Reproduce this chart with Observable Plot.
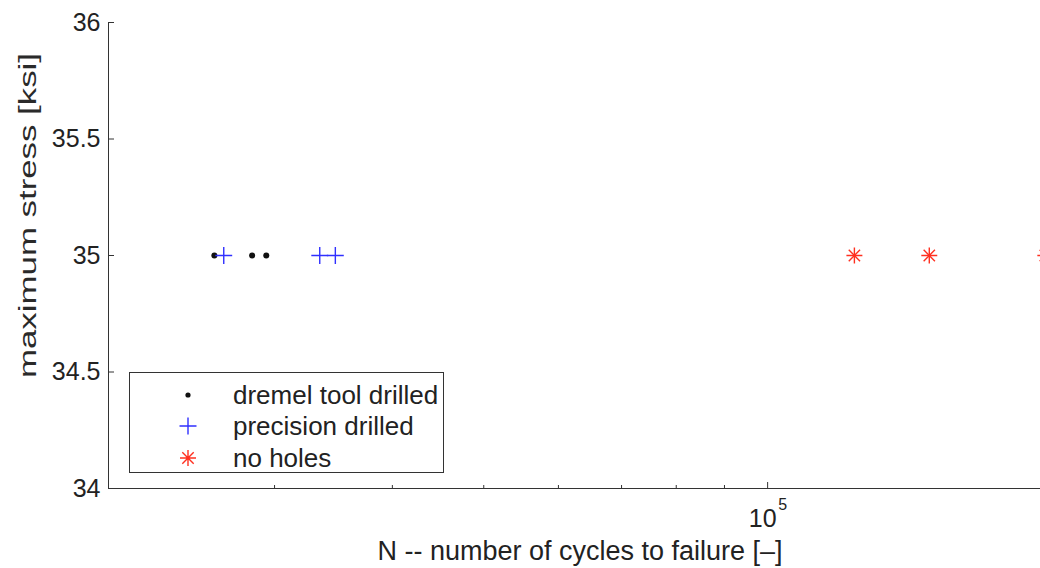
<!DOCTYPE html>
<html>
<head>
<meta charset="utf-8">
<script src="https://cdn.jsdelivr.net/npm/d3@7"></script>
<script src="https://cdn.jsdelivr.net/npm/@observablehq/plot@0.6"></script>
<style>
  html, body { margin: 0; padding: 0; background: #fff; overflow: hidden; }
  #wrap { position: relative; width: 1040px; height: 568px; overflow: hidden;
          font-family: "Liberation Sans", Arial, Helvetica, sans-serif; }
  #legend { position: absolute; left: 129px; top: 372px; width: 313px; height: 99px;
            border: 1.5px solid #333; background: #fff; }
  .row { position: absolute; left: 0; height: 32px; width: 313px; }
  .row svg { position: absolute; left: 46px; top: 4px; }
  .row span { position: absolute; left: 103px; top: 0; line-height: 32px; font-size: 26px; color: #222; white-space: nowrap; }
</style>
</head>
<body>
<div id="wrap"></div>
<script>
// ---- data ----
const stressLevel = 35;                       // ksi, all tests
const dremelCycles = [25900, 28400, 29400];   // dremel tool drilled
const precisionCycles = [26500, 33500, 34800];// precision drilled
const noHolesCycles = [123600, 148400, 197000]; // no holes
const seriesNames = ["dremel tool drilled", "precision drilled", "no holes"];
const seriesColors = ["#111111", "#3030ff", "#ff3020"];
const yTicks = [34, 34.5, 35, 35.5, 36];
const xMinorTicks = [30000, 40000, 50000, 60000, 70000, 80000, 90000];
const xMajorTicks = [100000];
const xLabel = "N -- number of cycles to failure [–]";
const yLabel = "maximum stress [ksi]";

const font = '"Liberation Sans", Arial, Helvetica, sans-serif';
const axisColor = "#333";

const chart = Plot.plot({
  width: 1040,
  height: 568,
  marginLeft: 108,
  marginRight: -11,
  marginTop: 22,
  marginBottom: 80,
  x: { type: "log", domain: [20000, 200000] },
  y: { domain: [34, 36] },
  style: { fontFamily: font, color: "#222", background: "white" },
  marks: [
    // axis lines
    Plot.ruleX([20000], { stroke: axisColor, strokeWidth: 1 }),
    Plot.ruleY([34], { stroke: axisColor, strokeWidth: 1 }),
    // y ticks (inward) and labels
    Plot.axisY({ ticks: yTicks, tickSize: 6, dx: 6, tickFormat: () => "", label: null, stroke: axisColor }),
    Plot.axisY({ ticks: yTicks, tickSize: 0, tickPadding: 8, tickFormat: d => String(d), label: null, fontSize: 25, fill: "#222" }),
    // x ticks (inward)
    Plot.axisX({ ticks: xMinorTicks, tickSize: 3, dy: -3, tickFormat: () => "", label: null, stroke: axisColor }),
    Plot.axisX({ ticks: xMajorTicks, tickSize: 6, dy: -6, tickFormat: () => "", label: null, stroke: axisColor }),
    // x major tick label 10^5
    Plot.text(xMajorTicks, { x: d => d, frameAnchor: "bottom", text: () => "10", dx: -5, dy: 30, fontSize: 25, lineAnchor: "middle", textAnchor: "middle", fill: "#222" }),
    Plot.text(xMajorTicks, { x: d => d, frameAnchor: "bottom", text: () => String(Math.round(Math.log10(xMajorTicks[0]))), dx: 15, dy: 16, fontSize: 16, lineAnchor: "middle", textAnchor: "middle", fill: "#222" }),
    // axis titles
    Plot.text([xLabel], { frameAnchor: "bottom", text: d => d, dy: 63, fontSize: 27, lineAnchor: "middle", textAnchor: "middle", fill: "#222" }),
    Plot.text([yLabel], { frameAnchor: "left", text: d => d, rotate: -90, dx: -80, dy: -40, fontSize: 23, lineAnchor: "middle", textAnchor: "middle", fill: "#2a2a2a" }),
    // data
    Plot.dot(dremelCycles, { x: d => d, y: () => stressLevel, r: 3, fill: seriesColors[0], stroke: null }),
    Plot.dot(precisionCycles, { x: d => d, y: () => stressLevel, symbol: "plus", r: 5.5, fill: "none", stroke: seriesColors[1], strokeWidth: 1.4 }),
    Plot.dot(noHolesCycles, { x: d => d, y: () => stressLevel, symbol: "plus", r: 5.2, fill: "none", stroke: seriesColors[2], strokeWidth: 1.4 }),
    Plot.dot(noHolesCycles, { x: d => d, y: () => stressLevel, symbol: "times", r: 5.2, fill: "none", stroke: seriesColors[2], strokeWidth: 1.4 })
  ]
});

// stretch the y title to the reference's length
d3.select(chart).selectAll("text").filter(function () { return this.textContent === yLabel; })
  .attr("textLength", 325).attr("lengthAdjust", "spacingAndGlyphs");

const wrap = document.getElementById("wrap");
wrap.appendChild(chart);

// legend
const legend = document.createElement("div");
legend.id = "legend";
const rowCenters = [22, 53, 85];
seriesNames.forEach((name, i) => {
  const row = document.createElement("div");
  row.className = "row";
  row.style.top = (rowCenters[i] - 16) + "px";
  const s = d3.create("svg").attr("width", 24).attr("height", 24);
  const g = s.append("g").attr("transform", "translate(12,12)");
  if (i === 0) {
    g.append("circle").attr("r", 2.6).attr("fill", seriesColors[0]);
  } else if (i === 1) {
    g.append("path").attr("d", "M-8.5,0H8.5M0,-8.5V8.5").attr("stroke", seriesColors[1]).attr("stroke-width", 1.4).attr("fill", "none");
  } else {
    g.append("path").attr("d", "M-8,0H8M0,-8V8M-5.7,-5.7L5.7,5.7M-5.7,5.7L5.7,-5.7").attr("stroke", seriesColors[2]).attr("stroke-width", 1.4).attr("fill", "none");
  }
  row.appendChild(s.node());
  const t = document.createElement("span");
  t.textContent = name;
  row.appendChild(t);
  legend.appendChild(row);
});
wrap.appendChild(legend);
</script>
</body>
</html>
